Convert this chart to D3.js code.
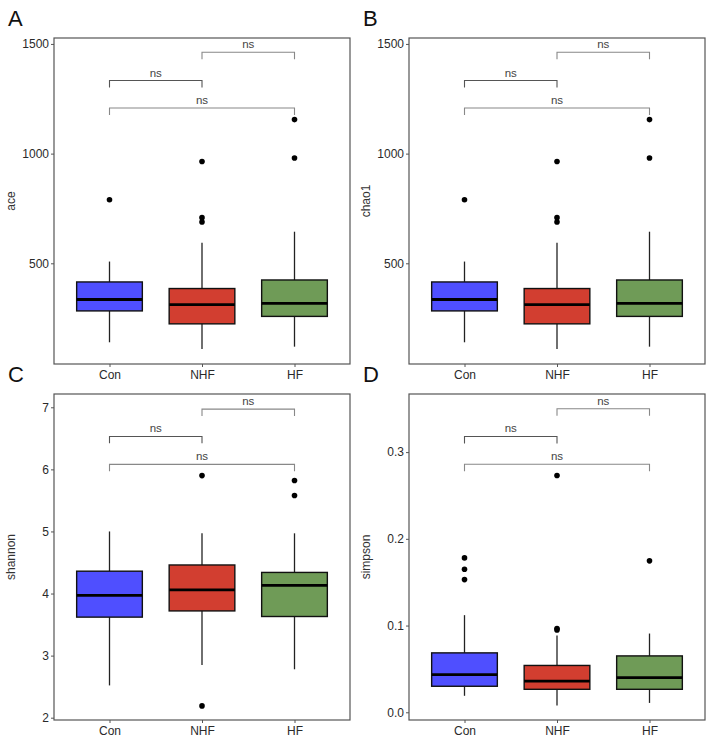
<!DOCTYPE html>
<html>
<head>
<meta charset="utf-8">
<script src="https://d3js.org/d3.v7.min.js"></script>
<style>
  body { margin: 0; background: #fff; }
  text { font-family: "Liberation Sans", Arial, sans-serif; }
</style>
</head>
<body>
<div id="chart"></div>
<script>
// Groups and colours
var groups = ["Con", "NHF", "HF"];
var groupColors = ["#4f4fff", "#d23e30", "#6f9b57"];

// Box stats per group: [lower whisker, Q1, median, Q3, upper whisker]
var aceStats = [[140, 283, 335, 415, 508], [109, 224, 312, 385, 594], [120, 258, 317, 424, 644]];
var aceOutliers = [[790], [964, 708, 688], [980, 1155]];
var chao1Stats = [[140, 283, 335, 415, 508], [109, 224, 312, 385, 594], [120, 258, 317, 424, 644]];
var chao1Outliers = [[790], [964, 708, 688], [980, 1155]];
var shannonStats = [[2.52, 3.62, 3.97, 4.36, 5.0], [2.85, 3.72, 4.06, 4.46, 4.97], [2.78, 3.63, 4.13, 4.34, 4.97]];
var shannonOutliers = [[], [5.9, 2.19], [5.82, 5.58]];
var simpsonStats = [[0.019, 0.030, 0.0435, 0.0685, 0.112], [0.0077, 0.0265, 0.036, 0.054, 0.0885], [0.0108, 0.0265, 0.040, 0.065, 0.0908]];
var simpsonOutliers = [[0.178, 0.165, 0.153], [0.0965, 0.095, 0.273], [0.1746]];

// Bracket heights: [Con-NHF, NHF-HF, Con-HF]
var aceBrackets = [1333, 1462, 1208];
var shannonBrackets = [6.53, 6.97, 6.08];
var simpsonBrackets = [0.318, 0.350, 0.286];

var aceTicks = [500, 1000, 1500];
var shannonTicks = [2, 3, 4, 5, 6, 7];
var simpsonTicks = [0.0, 0.1, 0.2, 0.3];

var panels = [
  {tag: "A", label: "ace", x: 54, y: 38, stats: aceStats, outliers: aceOutliers,
   domain: [41, 1527], ticks: aceTicks, fmt: d3.format("d"), brackets: aceBrackets, drop: 32},
  {tag: "B", label: "chao1", x: 409, y: 38, stats: chao1Stats, outliers: chao1Outliers,
   domain: [41, 1527], ticks: aceTicks, fmt: d3.format("d"), brackets: aceBrackets, drop: 32},
  {tag: "C", label: "shannon", x: 54, y: 394, stats: shannonStats, outliers: shannonOutliers,
   domain: [1.963, 7.214], ticks: shannonTicks, fmt: d3.format("d"), brackets: shannonBrackets, drop: 0.11},
  {tag: "D", label: "simpson", x: 409, y: 394, stats: simpsonStats, outliers: simpsonOutliers,
   domain: [-0.0089, 0.367], ticks: simpsonTicks, fmt: d3.format(".1f"), brackets: simpsonBrackets, drop: 0.008}
];

var width = 708, height = 738;
var pw = 296, ph = 326;
var svg = d3.select("#chart").append("svg")
  .attr("width", width)
  .attr("height", height);

panels.forEach(function(p) {
  var g = svg.append("g").attr("transform", "translate(" + p.x + "," + p.y + ")");

  // discrete scale with ggplot-like 0.6 expansion
  var x = d3.scaleLinear().domain([0.4, 3.6]).range([0, pw]);
  var y = d3.scaleLinear().domain(p.domain).range([ph, 0]);
  var halfBox = 0.355;

  // panel tag
  svg.append("text")
    .attr("x", p.x - 46)
    .attr("y", p.y - 12)
    .attr("font-size", 22)
    .attr("fill", "#111")
    .text(p.tag);

  // frame
  g.append("rect")
    .attr("width", pw).attr("height", ph)
    .attr("fill", "none")
    .attr("stroke", "#555")
    .attr("stroke-width", 1.2);

  // y axis
  var yAxis = g.append("g")
    .call(d3.axisLeft(y).tickValues(p.ticks).tickFormat(p.fmt).tickSize(3).tickPadding(2));
  yAxis.select(".domain").remove();
  yAxis.selectAll("line").attr("stroke", "#555");
  yAxis.selectAll("text").attr("font-size", 12).attr("fill", "#2a2a2a")
    .attr("font-family", "Liberation Sans, Arial, sans-serif");

  // x axis
  var xAxis = g.append("g")
    .attr("transform", "translate(0," + ph + ")")
    .call(d3.axisBottom(x).tickValues([1, 2, 3]).tickFormat(function(d) { return groups[d - 1]; }).tickSize(3).tickPadding(3));
  xAxis.select(".domain").remove();
  xAxis.selectAll("line").attr("stroke", "#555");
  xAxis.selectAll("text").attr("font-size", 12).attr("fill", "#2a2a2a")
    .attr("font-family", "Liberation Sans, Arial, sans-serif");

  // y title
  g.append("text")
    .attr("transform", "translate(-39," + (ph / 2) + ") rotate(-90)")
    .attr("text-anchor", "middle")
    .attr("font-size", 12)
    .attr("fill", "#333")
    .text(p.label);

  // boxes
  p.stats.forEach(function(s, i) {
    var cx = x(i + 1);
    var box = g.append("g");
    box.append("line")
      .attr("x1", cx).attr("x2", cx)
      .attr("y1", y(s[0])).attr("y2", y(s[1]))
      .attr("stroke", "#222").attr("stroke-width", 1.3);
    box.append("line")
      .attr("x1", cx).attr("x2", cx)
      .attr("y1", y(s[3])).attr("y2", y(s[4]))
      .attr("stroke", "#222").attr("stroke-width", 1.3);
    box.append("rect")
      .attr("x", x(i + 1 - halfBox))
      .attr("width", x(i + 1 + halfBox) - x(i + 1 - halfBox))
      .attr("y", y(s[3]))
      .attr("height", y(s[1]) - y(s[3]))
      .attr("fill", groupColors[i])
      .attr("stroke", "#111").attr("stroke-width", 1.4);
    box.append("line")
      .attr("x1", x(i + 1 - halfBox)).attr("x2", x(i + 1 + halfBox))
      .attr("y1", y(s[2])).attr("y2", y(s[2]))
      .attr("stroke", "#000").attr("stroke-width", 2.8);

    g.selectAll(null)
      .data(p.outliers[i])
      .enter()
      .append("circle")
      .attr("cx", cx)
      .attr("cy", function(d) { return y(d); })
      .attr("r", 2.8)
      .attr("fill", "#000");
  });

  // significance brackets
  var pairs = [[1, 2], [2, 3], [1, 3]];
  pairs.forEach(function(pr, k) {
    var h = p.brackets[k];
    var col = k === 0 ? "#555" : "#888";
    g.append("path")
      .attr("d", "M" + x(pr[0]) + "," + y(h - p.drop) +
        "V" + y(h) + "H" + x(pr[1]) + "V" + y(h - p.drop))
      .attr("fill", "none")
      .attr("stroke", col)
      .attr("stroke-width", 1.1);
    g.append("text")
      .attr("x", (x(pr[0]) + x(pr[1])) / 2)
      .attr("y", y(h) - 4)
      .attr("text-anchor", "middle")
      .attr("font-size", 11.5)
      .attr("fill", "#444")
      .text("ns");
  });
});
</script>
</body>
</html>
